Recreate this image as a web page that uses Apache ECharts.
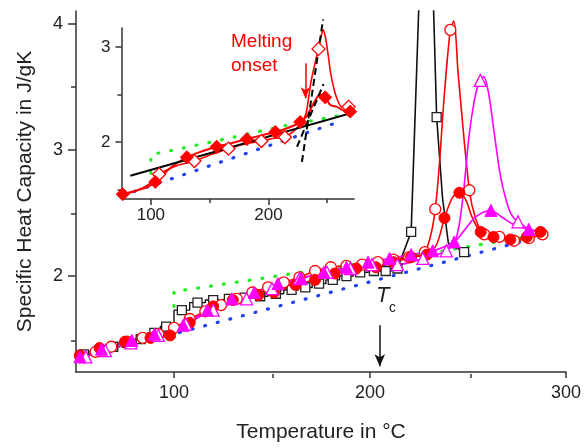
<!DOCTYPE html>
<html>
<head>
<meta charset="utf-8">
<script src="https://cdn.jsdelivr.net/npm/echarts@6/dist/echarts.min.js"></script>
<style>
  html, body { margin: 0; padding: 0; background: #fff; }
  #chart { width: 584px; height: 448px; }
</style>
</head>
<body>
<div id="chart"></div>
<script>
// ---- Main panel: specific heat capacity (J/gK) vs temperature (°C) ----
// mark arrays: 1 = point carries a symbol, 0 = curve point only

// open squares, stepped baseline
const squareT  = [54, 62, 69, 76, 83, 90, 96, 104, 112, 120, 128, 136, 144, 152, 160, 167, 174, 181, 188, 195, 202, 208, 214];
const squareCp = [1.38, 1.41, 1.44, 1.47, 1.50, 1.55, 1.60, 1.73, 1.79, 1.81, 1.82, 1.83, 1.84, 1.86, 1.89, 1.91, 1.94, 1.97, 2.00, 2.03, 2.04, 2.04, 2.06];
// open squares, melting peak (runs off the top of the axis)
const squarePeakT    = [214, 221, 229, 234, 237, 240, 248];
const squarePeakCp   = [2.06, 2.35, 6.0, 3.26, 2.62, 2.26, 2.19];
const squarePeakMark = [0, 1, 0, 1, 0, 0, 1];

// open circles
const openCircleT    = [52, 60, 68, 76, 84, 92, 100, 108, 116, 124, 132, 140, 148, 156, 164, 172, 180, 188, 196, 204, 212, 220, 228, 233.3, 238, 241, 242.8, 245, 250.7, 254, 258.3, 266, 273.5, 281, 288];
const openCircleCp   = [1.37, 1.40, 1.44, 1.48, 1.51, 1.54, 1.59, 1.66, 1.72, 1.77, 1.82, 1.87, 1.91, 1.95, 1.99, 2.04, 2.07, 2.08, 2.09, 2.11, 2.13, 2.15, 2.19, 2.53, 3.45, 3.95, 4.02, 3.60, 2.68, 2.45, 2.33, 2.31, 2.28, 2.30, 2.33];
const openCircleMark = [1, 1, 1, 1, 1, 1, 1, 1, 1, 1, 1, 1, 1, 1, 1, 1, 1, 1, 1, 1, 1, 1, 1, 1, 0, 1, 0, 0, 1, 0, 1, 1, 1, 1, 1];

// filled circles
const fullCircleT    = [52, 62, 75, 88, 98, 108, 120, 130, 143, 151, 162, 172, 182, 193, 203, 212, 221, 229, 234, 238, 242, 245.6, 249, 252, 256.5, 263, 271.6, 280, 287];
const fullCircleCp   = [1.37, 1.43, 1.48, 1.51, 1.53, 1.63, 1.76, 1.81, 1.85, 1.87, 1.93, 1.97, 2.02, 2.06, 2.07, 2.11, 2.15, 2.17, 2.25, 2.46, 2.62, 2.66, 2.60, 2.47, 2.35, 2.31, 2.29, 2.31, 2.35];
const fullCircleMark = [1, 1, 1, 1, 1, 1, 1, 1, 1, 1, 1, 1, 1, 1, 1, 1, 1, 1, 0, 1, 0, 1, 0, 0, 1, 1, 1, 1, 1];

// open triangles
const openTriT    = [55, 65, 78, 92, 106, 120, 137, 150, 164, 178, 190, 201, 214, 227, 239, 244, 247.3, 250.7, 254, 256.3, 258, 260.5, 263.4, 266.5, 269.5, 272, 275.5, 283, 290];
const openTriCp   = [1.36, 1.41, 1.47, 1.53, 1.62, 1.73, 1.82, 1.90, 1.98, 2.03, 2.06, 2.09, 2.09, 2.14, 2.20, 2.30, 2.61, 3.13, 3.45, 3.55, 3.58, 3.45, 3.13, 2.80, 2.60, 2.49, 2.43, 2.36, 2.34];
const openTriMark = [1, 1, 1, 1, 1, 1, 1, 1, 1, 1, 1, 1, 1, 1, 1, 0, 0, 0, 0, 1, 0, 0, 0, 0, 0, 0, 1, 0, 0];

// filled triangles
const fullTriT    = [52, 63, 78.5, 90, 104.7, 117, 129.5, 141, 153, 165, 176.4, 188, 199, 210, 221, 232, 243, 248, 254, 261.7, 267, 273, 281, 290];
const fullTriCp   = [1.36, 1.42, 1.49, 1.54, 1.61, 1.73, 1.82, 1.87, 1.94, 1.98, 2.03, 2.07, 2.11, 2.14, 2.17, 2.20, 2.27, 2.36, 2.47, 2.52, 2.47, 2.41, 2.37, 2.35];
const fullTriMark = [1, 1, 1, 1, 1, 1, 1, 1, 1, 1, 1, 1, 1, 1, 1, 1, 1, 0, 0, 1, 0, 0, 1, 0];

// reference lines (dotted)
const solidRefT  = [100, 100, 108, 165, 230, 291];
const solidRefCp = [1.76, 1.88, 1.895, 2.03, 2.18, 2.34];
const liquidRefT  = [90, 291];
const liquidRefCp = [1.50, 2.33];

// crystallization temperature marker
const tcTemp = 205;
const tcArrowCp = [1.61, 1.285];

// ---- Inset: onset construction ----
const openDiaT    = [76, 90, 100, 107, 122, 137, 152, 166, 180, 194, 205, 214, 222, 228, 232, 236, 240, 242.6, 245, 246.5, 248.5, 251, 253, 255.4, 258.2, 262.4, 268.2];
const openDiaCp   = [1.44, 1.50, 1.57, 1.66, 1.75, 1.80, 1.87, 1.93, 1.98, 2.01, 2.04, 2.05, 2.12, 2.20, 2.30, 2.62, 2.85, 2.98, 3.12, 3.18, 3.10, 2.90, 2.72, 2.58, 2.46, 2.37, 2.37];
const openDiaMark = [0, 0, 0, 1, 0, 1, 0, 1, 0, 1, 0, 1, 0, 0, 0, 0, 0, 1, 0, 0, 0, 0, 0, 0, 0, 0, 1];

const fullDiaT    = [76, 88, 96, 103.7, 117, 130.6, 143, 156, 169, 181.7, 194, 205.8, 217, 227, 233, 239, 244, 248.3, 252.6, 258.3, 264, 269.6];
const fullDiaCp   = [1.45, 1.49, 1.52, 1.58, 1.73, 1.84, 1.90, 1.95, 1.99, 2.03, 2.07, 2.105, 2.15, 2.21, 2.28, 2.42, 2.50, 2.47, 2.39, 2.37, 2.33, 2.32];
const fullDiaMark = [1, 0, 0, 1, 0, 1, 0, 1, 0, 1, 0, 1, 0, 1, 0, 0, 0, 1, 0, 0, 0, 1];

const baseFitT  = [82.5, 278];
const baseFitCp = [1.645, 2.33];
const tangentAT  = [228.5, 246.5];
const tangentACp = [1.79, 3.29];
const tangentBT  = [224.3, 246.9];
const tangentBCp = [1.95, 2.61];

const insetSolidT  = [100, 100, 110, 170, 217, 262];
const insetSolidCp = [1.67, 1.87, 1.89, 2.05, 2.18, 2.28];
const insetLiquidT  = [86, 262];
const insetLiquidCp = [1.48, 2.22];

const onsetTemp = 231.4;
const onsetArrowCp = [2.83, 2.46];

// ---- axis ticks ----
const mainXTicks = [100, 200, 300];
const mainXMinor = [150, 250];
const mainYTicks = [2, 3, 4];
const mainYMinor = [1.5, 2.5, 3.5];
const insetXTicks = [100, 200];
const insetXMinor = [150, 250];
const insetYTicks = [2, 3];
const insetYMinor = [1.5, 2.5];

const FONT = 'Liberation Sans, Arial, Helvetica, sans-serif';
const INK = '#222';

function pairs(t, cp) {
  return t.map((v, i) => [v, cp[i]]);
}
function marked(t, cp, mark) {
  return t.map((v, i) => mark[i] ? [v, cp[i]] : { value: [v, cp[i]], symbol: 'none' });
}

const mainRect  = { left: 76, top: 11, width: 493, height: 363 };
const insetRect = { left: 121.5, top: 28, width: 232.5, height: 171 };

function majorX(grid, min, max, ticks, fontSize, margin, extra) {
  return Object.assign({
    gridIndex: grid, type: 'value', min: min, max: max,
    axisLine: { show: true, onZero: false, lineStyle: { color: '#333', width: 1.5 } },
    axisTick: { show: true, customValues: ticks, length: 6, lineStyle: { color: '#333', width: 1.5 } },
    axisLabel: { show: true, customValues: ticks, fontSize: fontSize, color: INK, fontFamily: FONT, margin: margin },
    splitLine: { show: false }
  }, extra || {});
}
function majorY(grid, min, max, ticks, fontSize, margin, len, extra) {
  return Object.assign({
    gridIndex: grid, type: 'value', min: min, max: max,
    axisLine: { show: true, onZero: false, lineStyle: { color: '#333', width: 1.5 } },
    axisTick: { show: true, customValues: ticks, length: len, lineStyle: { color: '#333', width: 1.5 } },
    axisLabel: { show: true, customValues: ticks, fontSize: fontSize, color: INK, fontFamily: FONT, margin: margin },
    splitLine: { show: false }
  }, extra || {});
}
function minorAxis(grid, min, max, ticks, len) {
  return {
    gridIndex: grid, type: 'value', min: min, max: max,
    axisLine: { show: false, onZero: false },
    axisTick: { show: true, customValues: ticks, length: len, lineStyle: { color: '#333', width: 1.5 } },
    axisLabel: { show: false },
    splitLine: { show: false }
  };
}

function dotted(name, xi, data, color) {
  return {
    name: name, type: 'line', xAxisIndex: xi, yAxisIndex: xi, data: data,
    symbol: 'none', silent: true,
    lineStyle: { color: color, width: 3.2, type: [1, 12], cap: 'round' }
  };
}
function curve(name, xi, data, symbol, size, stroke, filled, opts) {
  return Object.assign({
    name: name, type: 'line', xAxisIndex: xi, yAxisIndex: xi, data: data,
    symbol: symbol, symbolSize: size, showSymbol: true, smooth: 0.3,
    lineStyle: { color: stroke, width: 1.6 },
    itemStyle: filled
      ? { color: stroke, borderColor: stroke, borderWidth: 1 }
      : { color: '#ffffff', borderColor: stroke, borderWidth: 1.3 }
  }, opts || {});
}

const chart = echarts.init(document.getElementById('chart'), null, { renderer: 'canvas' });

chart.setOption({
  animation: false,
  backgroundColor: '#ffffff',
  grid: [
    Object.assign({ containLabel: false }, mainRect),
    Object.assign({ containLabel: false }, mainRect),
    Object.assign({ containLabel: false }, insetRect),
    Object.assign({ containLabel: false }, insetRect)
  ],
  xAxis: [
    majorX(0, 50, 300, mainXTicks, 18, 12, {
      name: 'Temperature in °C', nameLocation: 'middle', nameGap: 50,
      nameTextStyle: { fontSize: 21, color: INK, fontFamily: FONT }
    }),
    minorAxis(1, 50, 300, mainXMinor, 4),
    majorX(2, 75, 272.8, insetXTicks, 17, 8),
    minorAxis(3, 75, 272.8, insetXMinor, 4)
  ],
  yAxis: [
    majorY(0, 1.24, 4.1, mainYTicks, 18, 13, 8, {
      name: 'Specific Heat Capacity in J/gK', nameLocation: 'middle', nameGap: 40, nameRotate: 90,
      nameTextStyle: { fontSize: 21, color: INK, fontFamily: FONT }
    }),
    minorAxis(1, 1.24, 4.1, mainYMinor, 5),
    majorY(2, 1.4, 3.2, insetYTicks, 17, 11, 6),
    minorAxis(3, 1.4, 3.2, insetYMinor, 4)
  ],
  graphic: [
    { type: 'text', left: 231, top: 30, silent: true,
      style: { text: 'Melting\nonset', fill: '#ff0000', font: '19px ' + FONT, lineHeight: 24 } },
    { type: 'text', left: 376, top: 285, silent: true,
      style: { text: 'T', fill: INK, font: 'italic 22px ' + FONT } },
    { type: 'text', left: 389, top: 301, silent: true,
      style: { text: 'c', fill: INK, font: '14px ' + FONT } }
  ],
  series: [
    // main panel
    Object.assign(dotted('liquid', 0, pairs(liquidRefT, liquidRefCp), '#1f3ff0'), {
      markLine: {
        silent: true, symbol: ['none', 'arrow'], symbolSize: [8, 12],
        label: { show: false },
        lineStyle: { color: '#111', width: 1.5, type: 'solid' },
        data: [[{ coord: [tcTemp, tcArrowCp[0]] }, { coord: [tcTemp, tcArrowCp[1]] }]]
      }
    }),
    dotted('solid', 0, pairs(solidRefT, solidRefCp), '#22ee22'),
    curve('squares', 0, pairs(squareT, squareCp), 'rect', 9, '#222', false, { smooth: false, step: 'middle', lineStyle: { color: '#111', width: 1.4 } }),
    curve('squaresPeak', 0, marked(squarePeakT, squarePeakCp, squarePeakMark), 'rect', 9, '#222', false, { smooth: false, lineStyle: { color: '#111', width: 1.6 } }),
    curve('openCircles', 0, marked(openCircleT, openCircleCp, openCircleMark), 'circle', 11, '#ff0000', false),
    curve('fullCircles', 0, marked(fullCircleT, fullCircleCp, fullCircleMark), 'circle', 11, '#ff0000', true),
    curve('openTriangles', 0, marked(openTriT, openTriCp, openTriMark), 'triangle', 12, '#ff00ff', false),
    curve('fullTriangles', 0, marked(fullTriT, fullTriCp, fullTriMark), 'triangle', 12, '#ff00ff', true),

    // inset
    dotted('insetLiquid', 2, pairs(insetLiquidT, insetLiquidCp), '#1f3ff0'),
    dotted('insetSolid', 2, pairs(insetSolidT, insetSolidCp), '#22ee22'),
    curve('openDiamonds', 2, marked(openDiaT, openDiaCp, openDiaMark), 'diamond', 13, '#ff0000', false),
    Object.assign(curve('fullDiamonds', 2, marked(fullDiaT, fullDiaCp, fullDiaMark), 'diamond', 13, '#ff0000', true), {
      lineStyle: { color: '#ff0000', width: 2 },
      markLine: {
        silent: true, symbol: ['none', 'arrow'], symbolSize: [7, 11],
        label: { show: false },
        lineStyle: { color: '#ff0000', width: 1.5, type: 'solid' },
        data: [[{ coord: [onsetTemp, onsetArrowCp[0]] }, { coord: [onsetTemp, onsetArrowCp[1]] }]]
      }
    }),
    { name: 'baselineFit', type: 'line', xAxisIndex: 2, yAxisIndex: 2, data: pairs(baseFitT, baseFitCp),
      symbol: 'none', clip: false, lineStyle: { color: '#000', width: 2 } },
    { name: 'tangentA', type: 'line', xAxisIndex: 2, yAxisIndex: 2, data: pairs(tangentAT, tangentACp),
      symbol: 'none', clip: false, lineStyle: { color: '#000', width: 2, type: [7, 4] } },
    { name: 'tangentB', type: 'line', xAxisIndex: 2, yAxisIndex: 2, data: pairs(tangentBT, tangentBCp),
      symbol: 'none', lineStyle: { color: '#000', width: 2, type: [7, 4] } }
  ]
});
</script>
</body>
</html>
